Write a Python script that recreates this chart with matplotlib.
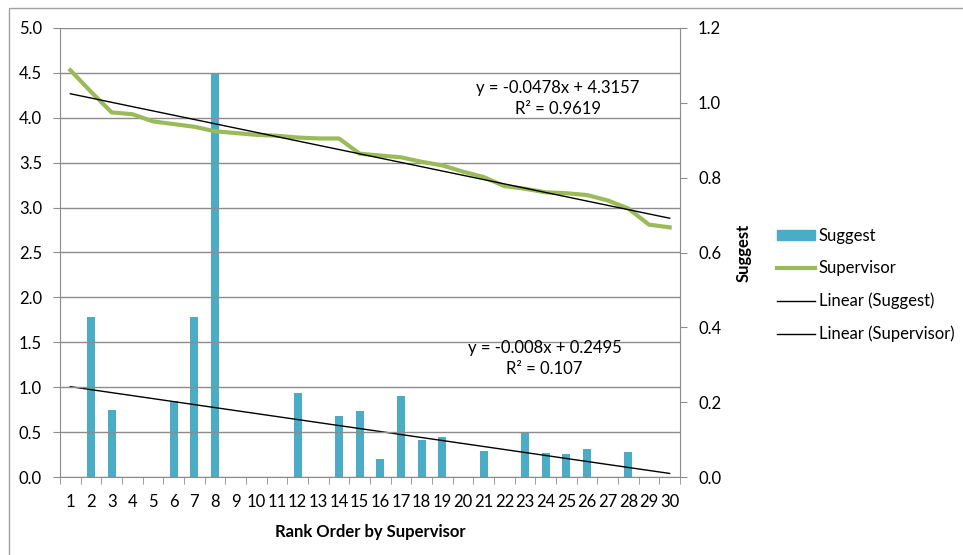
import numpy as np
import matplotlib.pyplot as plt
from matplotlib.patches import Rectangle
from matplotlib.lines import Line2D

# Data
rank = np.arange(1, 31)
supervisor = [4.53, 4.29, 4.06, 4.04, 3.96, 3.93, 3.90, 3.85, 3.83, 3.81,
              3.80, 3.78, 3.77, 3.77, 3.60, 3.58, 3.56, 3.51, 3.47, 3.40,
              3.34, 3.24, 3.21, 3.17, 3.16, 3.14, 3.08, 2.99, 2.81, 2.78]
suggest = [0, 0.428, 0.179, 0, 0, 0.203, 0.428, 1.08, 0, 0,
           0, 0.224, 0, 0.162, 0.176, 0.048, 0.216, 0.099, 0.107, 0,
           0.070, 0, 0.118, 0.063, 0.062, 0.074, 0, 0.067, 0, 0]
# trendline coefficients (slope, intercept) as shown by the chart
trend_supervisor = [-0.0478, 4.3157]
trend_suggest = [-0.008, 0.2495]
eq_supervisor = ['y = -0.0478x + 4.3157', 'R² = 0.9619']
eq_suggest = ['y = -0.008x + 0.2495', 'R² = 0.107']

plt.rcParams['font.family'] = ['Lato', 'DejaVu Sans']
blue = '#4BACC6'
green = '#9BBB59'
grid = '#8C8C8C'
fs = 12

fig = plt.figure(figsize=(9.63, 5.55), dpi=100)
fig.patches.append(Rectangle((9/963, -0.1), 1.1, 1 - 8/555 + 0.1, transform=fig.transFigure,
                             fill=False, edgecolor='#A0A0A0', linewidth=1))

ax = fig.add_axes([60/963, 1-477/555, 620/963, 449/555])
ax2 = ax.twinx()

# bars on secondary axis
ax2.bar(rank, suggest, width=0.4, color=blue, zorder=2)
ax2.plot(rank, np.polyval(trend_suggest, rank), color='black', linewidth=1, zorder=3)
ax2.set_ylim(0, 1.2)
ax2.set_yticks(np.arange(0, 1.21, 0.2))
ax2.set_yticklabels(['%.1f' % v for v in np.arange(0, 1.21, 0.2)])
ax2.set_ylabel('Suggest', fontweight='bold', fontsize=fs)
ax2.yaxis.set_label_coords(1.09, 0.5)

# supervisor line on primary axis, drawn over the bars
ax.set_zorder(ax2.get_zorder() + 1)
ax.patch.set_visible(False)
ax.plot(rank, supervisor, color=green, linewidth=3, zorder=3)
ax.plot(rank, np.polyval(trend_supervisor, rank), color='black', linewidth=1, zorder=4)
ax.set_ylim(0, 5)
ax.set_yticks(np.arange(0, 5.01, 0.5))
ax.set_yticklabels(['%.1f' % v for v in np.arange(0, 5.01, 0.5)])
ax.set_xlim(0.5, 30.5)
ax.set_xticks(rank)
ax.set_xticks(np.arange(0.5, 31, 1), minor=True)
ax.tick_params(axis='x', which='major', length=0, pad=12)
ax.tick_params(axis='x', which='minor', length=5, color=grid)
ax.set_xlabel('Rank Order by Supervisor', fontweight='bold', fontsize=fs, labelpad=10)
ax.grid(axis='y', color=grid, linewidth=1, zorder=0)
ax.set_axisbelow(True)

for a in (ax, ax2):
    for s in a.spines.values():
        s.set_visible(False)
    a.tick_params(axis='y', length=5, color=grid, labelsize=fs, pad=8)
ax.tick_params(axis='x', labelsize=fs)
ax.spines['left'].set_visible(True)
ax.spines['left'].set_color(grid)
ax.spines['bottom'].set_visible(True)
ax.spines['bottom'].set_color(grid)
ax2.spines['right'].set_visible(True)
ax2.spines['right'].set_color(grid)

ax.text(24.6, 4.33, eq_supervisor[0], ha='center', va='center', fontsize=fs)
ax.text(24.6, 4.10, eq_supervisor[1], ha='center', va='center', fontsize=fs)
ax.text(23.95, 1.44, eq_suggest[0], ha='center', va='center', fontsize=fs)
ax.text(23.95, 1.20, eq_suggest[1], ha='center', va='center', fontsize=fs)

handles = [Rectangle((0, 0), 1, 1, color=blue),
           Line2D([], [], color=green, linewidth=3),
           Line2D([], [], color='black', linewidth=1),
           Line2D([], [], color='black', linewidth=1)]
labels = ['Suggest', 'Supervisor', 'Linear (Suggest)', 'Linear (Supervisor)']
fig.legend(handles, labels, loc='upper left', bbox_to_anchor=(777/963, 1-228/555),
           frameon=False, fontsize=fs, handlelength=2.3, handleheight=0.6,
           handletextpad=0.2, labelspacing=0.98, borderaxespad=0, borderpad=0)

fig.savefig('out.png', dpi=100)
